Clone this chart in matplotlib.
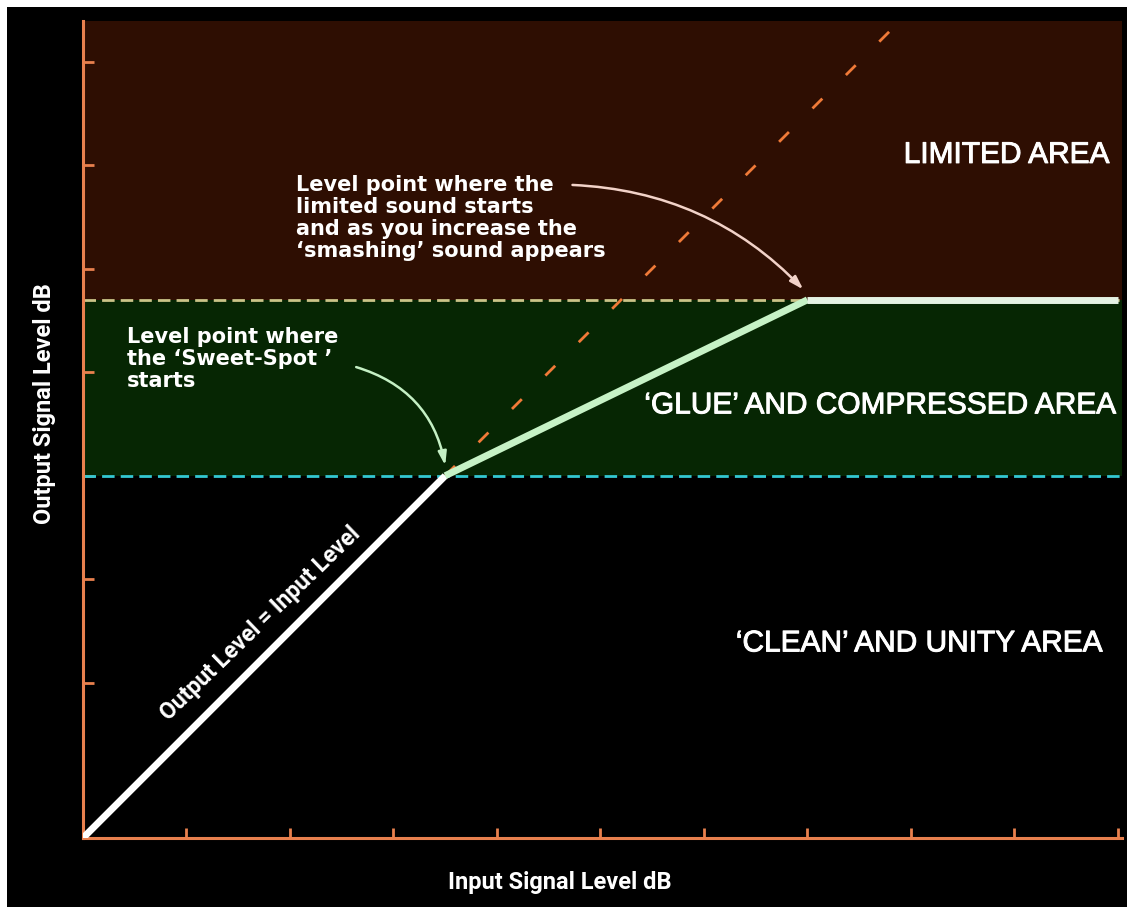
import matplotlib
matplotlib.use("Agg")
import matplotlib.pyplot as plt
import matplotlib.patheffects as pe
from matplotlib.patches import Rectangle

# ---- data ----
input_levels = [0.0, 3.5, 7.0, 10.0]
output_levels = [0.0, 3.5, 5.2, 5.2]
segment_colors = ["#ffffff", "#c6f2c6", "#e4f2e4"]
threshold_level = 3.5
limit_level = 5.2
unity_x = [3.5, 10.0]
unity_y = [3.5, 10.0]
x_ticks = [1, 2, 3, 4, 5, 6, 7, 8, 9, 10]
y_ticks = [1.5, 2.5, 3.5, 4.5, 5.5, 6.5, 7.5]
region_labels = ["LIMITED AREA", "\u2018GLUE\u2019 AND COMPRESSED AREA", "\u2018CLEAN\u2019 AND UNITY AREA"]
region_label_pos = [(9.92, 6.6), (9.99, 4.18), (9.85, 1.88)]
note_limit = "Level point where the\nlimited sound starts\nand as you increase the\n\u2018smashing\u2019 sound appears"
note_sweet = "Level point where\nthe \u2018Sweet-Spot \u2019\nstarts"

W, H = 1133, 913
fig = plt.figure(figsize=(W / 100, H / 100), dpi=100, facecolor="white")
fig.patches.append(Rectangle((7 / W, 6 / H), (1127 - 7) / W, (907 - 7) / H,
                             transform=fig.transFigure, facecolor="black",
                             edgecolor="none", zorder=-10))

ax = fig.add_axes([83 / W, (H - 838) / H, (1122 - 83) / W, (838 - 21) / H])
ax.set_zorder(1)
ax.set_facecolor("black")
ax.set_xlim(0, 10.04)
ax.set_ylim(0, 7.894)

brown = "#2e0e02"
green = "#062603"
ax.axhspan(threshold_level, limit_level, color=green, lw=0, zorder=0)
ax.axhspan(limit_level, 7.894, color=brown, lw=0, zorder=0)

orange = "#e8804e"
for s in ["top", "right"]:
    ax.spines[s].set_visible(False)
for s in ["left", "bottom"]:
    ax.spines[s].set_color(orange)
    ax.spines[s].set_linewidth(2.2)
ax.set_xticks(x_ticks)
ax.set_yticks(y_ticks)
ax.tick_params(axis="both", direction="in", color=orange, width=2, labelleft=False, labelbottom=False)
ax.tick_params(axis="x", length=7)
ax.tick_params(axis="y", length=8)

# dashed level lines
ax.axhline(threshold_level, color="#33c8d2", lw=2, dashes=(4.5, 2.2), zorder=2)
ax.axhline(limit_level, color="#cbc488", lw=2, dashes=(4.5, 2.2), zorder=2)

# unity continuation
ax.plot(unity_x, unity_y, color="#f07a38", lw=2, dashes=(5, 12), zorder=2)

# transfer curve
for i in range(len(input_levels) - 1):
    ax.plot(input_levels[i:i + 2], output_levels[i:i + 2], color=segment_colors[i],
            lw=5, solid_capstyle="butt", zorder=4)

# region labels
for lbl, (x, y) in zip(region_labels, region_label_pos):
    ax.text(x, y, lbl, ha="right", va="center", color="white",
            fontsize=21.5, family="Liberation Sans",
            path_effects=[pe.withStroke(linewidth=0.7, foreground="white")])

# notes
ax.text(2.06, 6.41, note_limit, ha="left", va="top", color="white", fontsize=15,
        fontweight="bold", family="DejaVu Sans", linespacing=1.14)
ax.text(0.425, 4.94, note_sweet, ha="left", va="top", color="white", fontsize=15,
        fontweight="bold", family="DejaVu Sans", linespacing=1.14)

ax.annotate("", xy=(6.96, 5.30), xytext=(4.73, 6.31),
            arrowprops=dict(arrowstyle="-|>,head_length=0.8,head_width=0.25", color="#f2d2c8",
                            lw=1.8, connectionstyle="arc3,rad=-0.2", shrinkA=0, shrinkB=0), zorder=5)
ax.annotate("", xy=(3.50, 3.60), xytext=(2.64, 4.55),
            arrowprops=dict(arrowstyle="-|>,head_length=0.8,head_width=0.25", color="#c4f0c4",
                            lw=1.8, connectionstyle="arc3,rad=-0.3", shrinkA=0, shrinkB=0), zorder=5)

ax.text(1.71, 2.07, "Output Level = Input Level", rotation=44, ha="center", va="center",
        rotation_mode="anchor", color="white", fontsize=16.5, fontweight="bold", family="Roboto")

fig.text(560 / W, 1 - 882 / H, "Input Signal Level dB", ha="center", va="center",
         color="white", fontsize=17, fontweight="bold", family="Roboto")
fig.text(45 / W, 1 - 404 / H, "Output Signal Level dB", ha="center", va="center", rotation=90,
         color="white", fontsize=17, fontweight="bold", family="Roboto")

fig.savefig("out.png", dpi=100, facecolor="white")
